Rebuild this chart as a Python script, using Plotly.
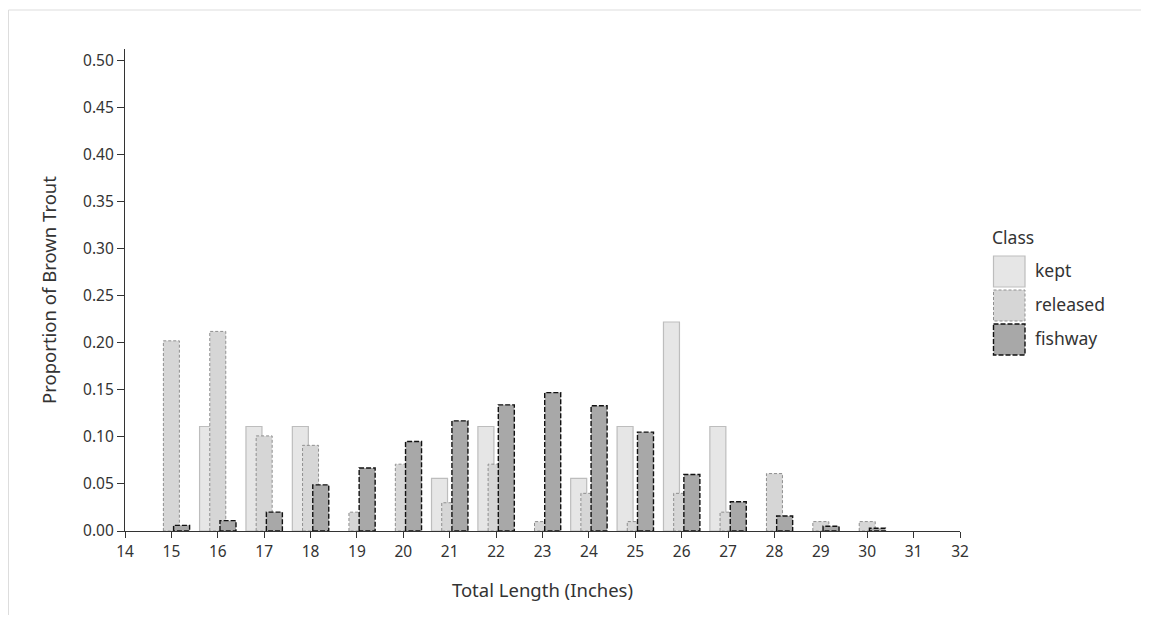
import plotly.graph_objects as go

# ---- data ----
lengths = list(range(15, 31))
kept = [0, 0.111, 0.111, 0.111, 0, 0, 0.056, 0.111, 0, 0.056, 0.111, 0.222, 0.111, 0, 0, 0]
released = [0.202, 0.212, 0.101, 0.091, 0.020, 0.071, 0.030, 0.071, 0.010, 0.040,
            0.010, 0.040, 0.020, 0.061, 0.010, 0.010]
fishway = [0.006, 0.011, 0.020, 0.049, 0.067, 0.095, 0.117, 0.134, 0.147, 0.133,
           0.105, 0.060, 0.031, 0.016, 0.005, 0.003]
classes = ["kept", "released", "fishway"]
x_ticks = list(range(14, 33))
y_ticks = [0.00, 0.05, 0.10, 0.15, 0.20, 0.25, 0.30, 0.35, 0.40, 0.45, 0.50]

# ---- style ----
BODY = 8  # browser default body margin
W, H = 1133, 607
ML, MR, MT, MB = 117, 181, 41, 84
FONT = "Noto Sans"
TXT = "#333333"
BAR_W = 0.345
styles = {
    "kept": dict(offset=-0.22, fill="#e6e6e6", line="#bdbdbd", dash="solid", lw=1.2),
    "released": dict(offset=0.0, fill="#d6d6d6", line="#8f8f8f", dash="3px,2px", lw=1.0),
    "fishway": dict(offset=0.22, fill="#a8a8a8", line="#111111", dash="5px,2px", lw=1.4),
}
series = {"kept": kept, "released": released, "fishway": fishway}


def rects(xs, ys, off, w):
    X, Y = [], []
    for x, y in zip(xs, ys):
        if y <= 0:
            continue
        x0, x1 = x + off - w / 2, x + off + w / 2
        X += [x0, x0, x1, x1, x0, None]
        Y += [0, y, y, 0, 0, None]
    return X, Y


fig = go.Figure()
for c in classes:
    s = styles[c]
    X, Y = rects(lengths, series[c], s["offset"], BAR_W)
    fig.add_trace(go.Scatter(
        x=X, y=Y, mode="lines", fill="toself", fillcolor=s["fill"],
        line=dict(color=s["line"], width=s["lw"], dash=s["dash"]),
        name=c, showlegend=False, hoverinfo="skip",
    ))

pw, ph = W - ML - MR, H - MT - MB


def px(page_x):
    return (page_x - BODY - ML) / pw


def py(page_y):
    return (BODY + H - MB - page_y) / ph


shapes = []
annotations = []
# outer light frame
shapes.append(dict(type="line", xref="paper", yref="paper", x0=px(8.5), x1=px(1160),
                   y0=py(10), y1=py(10), line=dict(color="#dddddd", width=1)))
shapes.append(dict(type="line", xref="paper", yref="paper", x0=px(8.5), x1=px(8.5),
                   y0=py(10), y1=py(640), line=dict(color="#dddddd", width=1)))

# custom legend
annotations.append(dict(text="Class", xref="paper", yref="paper", x=px(990), y=py(237),
                        xanchor="left", yanchor="middle", showarrow=False,
                        font=dict(family=FONT, size=17.5, color=TXT)))
box_tops = [256, 290, 324]
for c, top in zip(classes, box_tops):
    s = styles[c]
    shapes.append(dict(type="rect", xref="paper", yref="paper",
                       x0=px(993.5), x1=px(1025), y0=py(top), y1=py(top + 31),
                       fillcolor=s["fill"],
                       line=dict(color=s["line"], width=s["lw"], dash=s["dash"])))
    annotations.append(dict(text=c, xref="paper", yref="paper", x=px(1033), y=py(top + 14),
                            xanchor="left", yanchor="middle", showarrow=False,
                            font=dict(family=FONT, size=17.5, color=TXT)))

fig.update_layout(
    width=W, height=H,
    margin=dict(l=ML, r=MR, t=MT, b=MB),
    paper_bgcolor="white", plot_bgcolor="white",
    font=dict(family=FONT, size=15.5, color=TXT),
    showlegend=False,
    shapes=shapes, annotations=annotations,
    xaxis=dict(range=[14, 32], tickmode="array", tickvals=x_ticks,
               ticktext=[str(v) for v in x_ticks],
               showgrid=False, zeroline=False, showline=True, linecolor="#333333",
               linewidth=1.2, ticks="outside", ticklen=6, tickcolor="#333333",
               tickfont=dict(family=FONT, size=15.5, color=TXT),
               title=dict(text="Total Length (Inches)", standoff=23,
                          font=dict(family=FONT, size=18.5, color=TXT))),
    yaxis=dict(range=[0, 0.512], tickmode="array", tickvals=y_ticks,
               ticktext=[f"{v:.2f}" for v in y_ticks],
               showgrid=False, zeroline=False, showline=True, linecolor="#333333",
               linewidth=1.2, ticks="outside", ticklen=7, tickcolor="#333333",
               tickfont=dict(family=FONT, size=15.5, color=TXT),
               title=dict(text="Proportion of Brown Trout", standoff=21,
                          font=dict(family=FONT, size=18.5, color=TXT))),
)

fig.write_html("out.html")
